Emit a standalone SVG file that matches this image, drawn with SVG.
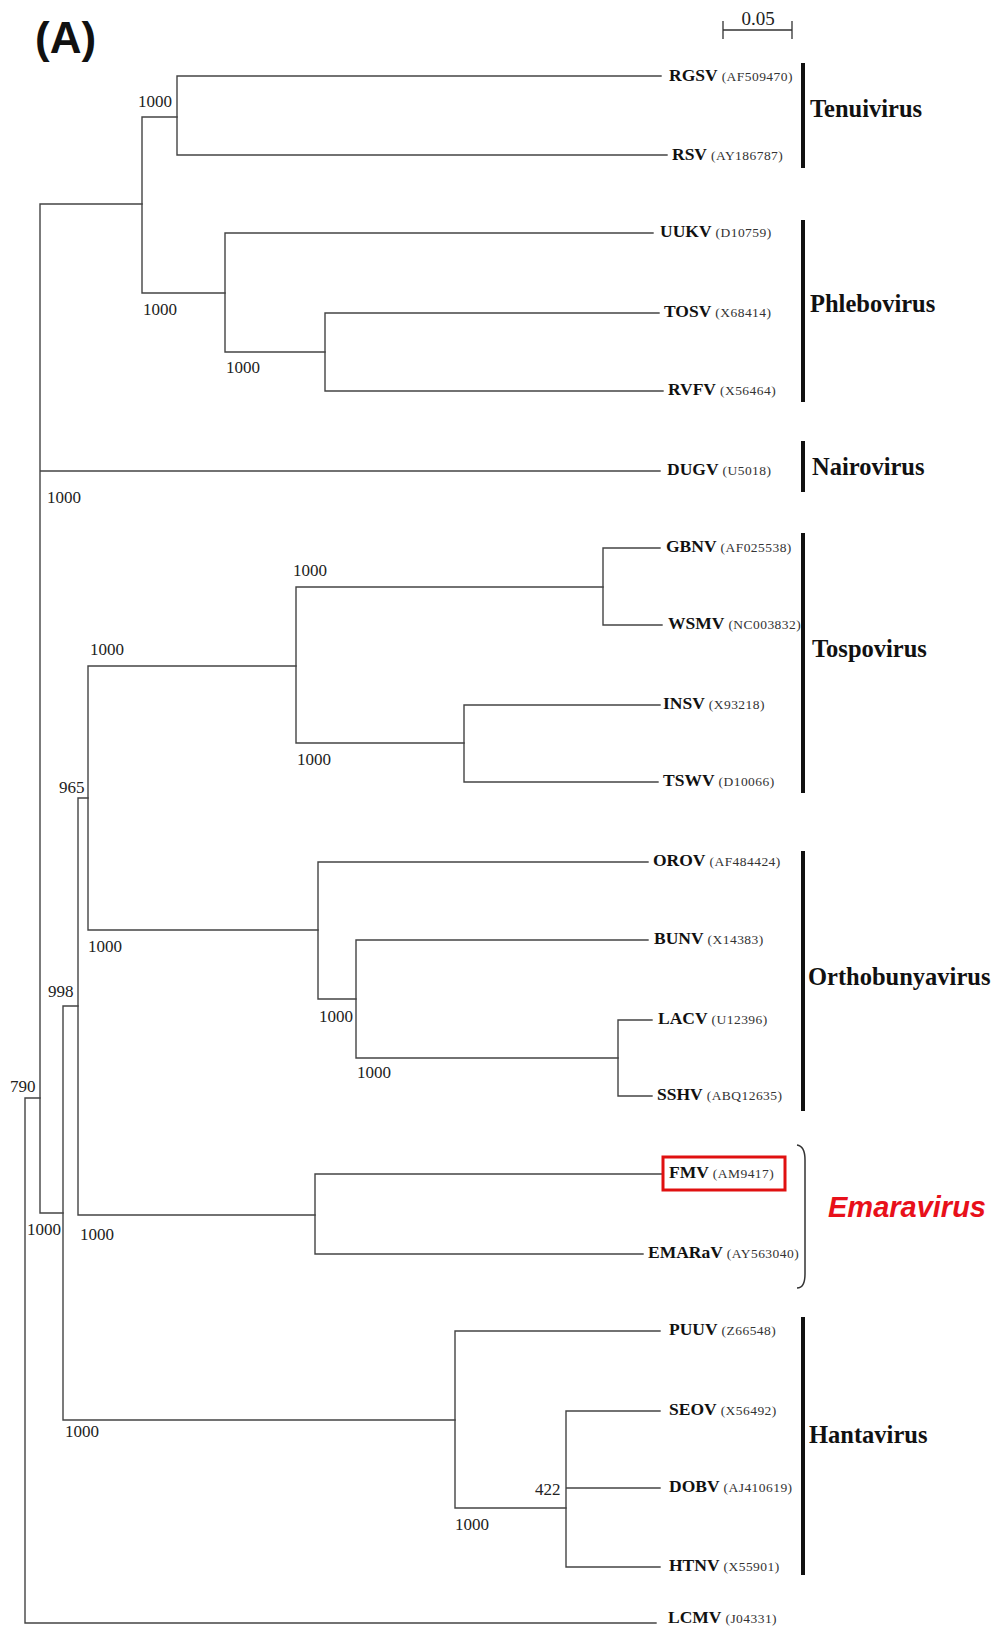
<svg xmlns="http://www.w3.org/2000/svg" width="995" height="1627" viewBox="0 0 995 1627">
<style>
.br{fill:none;stroke:#444;stroke-width:1.4;stroke-linecap:square}
.bs{font-family:"Liberation Serif",serif;font-size:17px;fill:#222}
.nm{font-family:"Liberation Serif",serif;font-size:17.5px;font-weight:bold;fill:#111}
.acc{font-family:"Liberation Serif",serif;font-size:13.5px;font-weight:normal;fill:#333;letter-spacing:0.45px}
.bar{fill:#111}
.grp{font-family:"Liberation Serif",serif;font-size:24.5px;font-weight:bold;fill:#111}
</style>
<rect width="995" height="1627" fill="#fff"/>
<text x="35" y="53" font-family="Liberation Sans, sans-serif" font-size="44" font-weight="bold" fill="#111">(A)</text>
<g id="scale">
<path d="M723,30 H792 M723,21 V39 M792,21 V39" fill="none" stroke="#333" stroke-width="1.3"/>
<text x="758" y="25" text-anchor="middle" font-family="Liberation Serif, serif" font-size="19" fill="#222">0.05</text>
</g>
<g id="connectors" class="br">
<path d="M25,1098 V1623 M25,1098 H40 M25,1623 H656"/>
<path d="M40,204 V1213 M40,204 H142 M40,471 H660 M40,1213 H63"/>
<path d="M142,117 V293 M142,117 H177 M142,293 H225"/>
<path d="M177,76 V155 M177,76 H661 M177,155 H667"/>
<path d="M225,233 V352 M225,233 H653 M225,352 H325"/>
<path d="M325,313 V391 M325,313 H659 M325,391 H663"/>
<path d="M63,1006 V1420 M63,1006 H78 M63,1420 H455"/>
<path d="M78,798 V1215 M78,798 H88 M78,1215 H315"/>
<path d="M88,666 V930 M88,666 H296 M88,930 H318"/>
<path d="M296,587 V743 M296,587 H603 M296,743 H464"/>
<path d="M603,548 V625 M603,548 H660 M603,625 H662"/>
<path d="M464,705 V782 M464,705 H660 M464,782 H658"/>
<path d="M318,862 V999 M318,862 H648 M318,999 H356"/>
<path d="M356,940 V1058 M356,940 H648 M356,1058 H618"/>
<path d="M618,1020 V1096 M618,1020 H652 M618,1096 H652"/>
<path d="M315,1174 V1254 M315,1174 H663 M315,1254 H643"/>
<path d="M455,1331 V1508 M455,1331 H660 M455,1508 H566"/>
<path d="M566,1411 V1567 M566,1411 H660 M566,1488 H660 M566,1567 H660"/>
</g>
<g id="bootstrap">
<text class="bs" x="138" y="107">1000</text>
<text class="bs" x="143" y="315">1000</text>
<text class="bs" x="226" y="373">1000</text>
<text class="bs" x="47" y="503">1000</text>
<text class="bs" x="293" y="576">1000</text>
<text class="bs" x="90" y="655">1000</text>
<text class="bs" x="297" y="765">1000</text>
<text class="bs" x="59" y="793">965</text>
<text class="bs" x="88" y="952">1000</text>
<text class="bs" x="48" y="997">998</text>
<text class="bs" x="319" y="1022">1000</text>
<text class="bs" x="357" y="1078">1000</text>
<text class="bs" x="10" y="1092">790</text>
<text class="bs" x="27" y="1235">1000</text>
<text class="bs" x="80" y="1240">1000</text>
<text class="bs" x="65" y="1437">1000</text>
<text class="bs" x="535" y="1495">422</text>
<text class="bs" x="455" y="1530">1000</text>
</g>
<g id="leaf-RGSV"><text class="nm" x="669" y="81">RGSV<tspan class="acc" dx="4">(AF509470)</tspan></text></g>
<g id="leaf-RSV"><text class="nm" x="672" y="160">RSV<tspan class="acc" dx="4">(AY186787)</tspan></text></g>
<g id="leaf-UUKV"><text class="nm" x="660" y="237">UUKV<tspan class="acc" dx="4">(D10759)</tspan></text></g>
<g id="leaf-TOSV"><text class="nm" x="664" y="317">TOSV<tspan class="acc" dx="4">(X68414)</tspan></text></g>
<g id="leaf-RVFV"><text class="nm" x="668" y="395">RVFV<tspan class="acc" dx="4">(X56464)</tspan></text></g>
<g id="leaf-DUGV"><text class="nm" x="667" y="475">DUGV<tspan class="acc" dx="4">(U5018)</tspan></text></g>
<g id="leaf-GBNV"><text class="nm" x="666" y="552">GBNV<tspan class="acc" dx="4">(AF025538)</tspan></text></g>
<g id="leaf-WSMV"><text class="nm" x="668" y="629">WSMV<tspan class="acc" dx="4">(NC003832)</tspan></text></g>
<g id="leaf-INSV"><text class="nm" x="663" y="709">INSV<tspan class="acc" dx="4">(X93218)</tspan></text></g>
<g id="leaf-TSWV"><text class="nm" x="663" y="786">TSWV<tspan class="acc" dx="4">(D10066)</tspan></text></g>
<g id="leaf-OROV"><text class="nm" x="653" y="866">OROV<tspan class="acc" dx="4">(AF484424)</tspan></text></g>
<g id="leaf-BUNV"><text class="nm" x="654" y="944">BUNV<tspan class="acc" dx="4">(X14383)</tspan></text></g>
<g id="leaf-LACV"><text class="nm" x="658" y="1024">LACV<tspan class="acc" dx="4">(U12396)</tspan></text></g>
<g id="leaf-SSHV"><text class="nm" x="657" y="1100">SSHV<tspan class="acc" dx="4">(ABQ12635)</tspan></text></g>
<g id="leaf-FMV">
<rect x="663" y="1157" width="122" height="33" fill="none" stroke="#e01010" stroke-width="3"/>
<text class="nm" x="669" y="1178">FMV<tspan class="acc" dx="4">(AM9417)</tspan></text></g>
<g id="leaf-EMARaV"><text class="nm" x="648" y="1258">EMARaV<tspan class="acc" dx="4">(AY563040)</tspan></text></g>
<g id="leaf-PUUV"><text class="nm" x="669" y="1335">PUUV<tspan class="acc" dx="4">(Z66548)</tspan></text></g>
<g id="leaf-SEOV"><text class="nm" x="669" y="1415">SEOV<tspan class="acc" dx="4">(X56492)</tspan></text></g>
<g id="leaf-DOBV"><text class="nm" x="669" y="1492">DOBV<tspan class="acc" dx="4">(AJ410619)</tspan></text></g>
<g id="leaf-HTNV"><text class="nm" x="669" y="1571">HTNV<tspan class="acc" dx="4">(X55901)</tspan></text></g>
<g id="leaf-LCMV"><text class="nm" x="668" y="1623">LCMV<tspan class="acc" dx="4">(J04331)</tspan></text></g>
<g id="group-Tenuivirus"><rect class="bar" x="801" y="63" width="4" height="105"/><text class="grp" x="810" y="117">Tenuivirus</text></g>
<g id="group-Phlebovirus"><rect class="bar" x="801" y="220" width="4" height="182"/><text class="grp" x="810" y="312">Phlebovirus</text></g>
<g id="group-Nairovirus"><rect class="bar" x="801" y="441" width="4" height="51"/><text class="grp" x="812" y="475">Nairovirus</text></g>
<g id="group-Tospovirus"><rect class="bar" x="801" y="533" width="4" height="260"/><text class="grp" x="812" y="657">Tospovirus</text></g>
<g id="group-Orthobunyavirus"><rect class="bar" x="801" y="851" width="4" height="260"/><text class="grp" x="808" y="985">Orthobunyavirus</text></g>
<g id="group-Emaravirus">
<path d="M797,1145 Q805,1146 805,1160 V1274 Q805,1288 797,1288" fill="none" stroke="#333" stroke-width="1.5"/>
<text x="828" y="1217" font-family="Liberation Sans, sans-serif" font-size="29" font-weight="bold" font-style="italic" fill="#e8101a">Emaravirus</text>
</g>
<g id="group-Hantavirus"><rect class="bar" x="801" y="1317" width="4" height="258"/><text class="grp" x="809" y="1443">Hantavirus</text></g>
</svg>
